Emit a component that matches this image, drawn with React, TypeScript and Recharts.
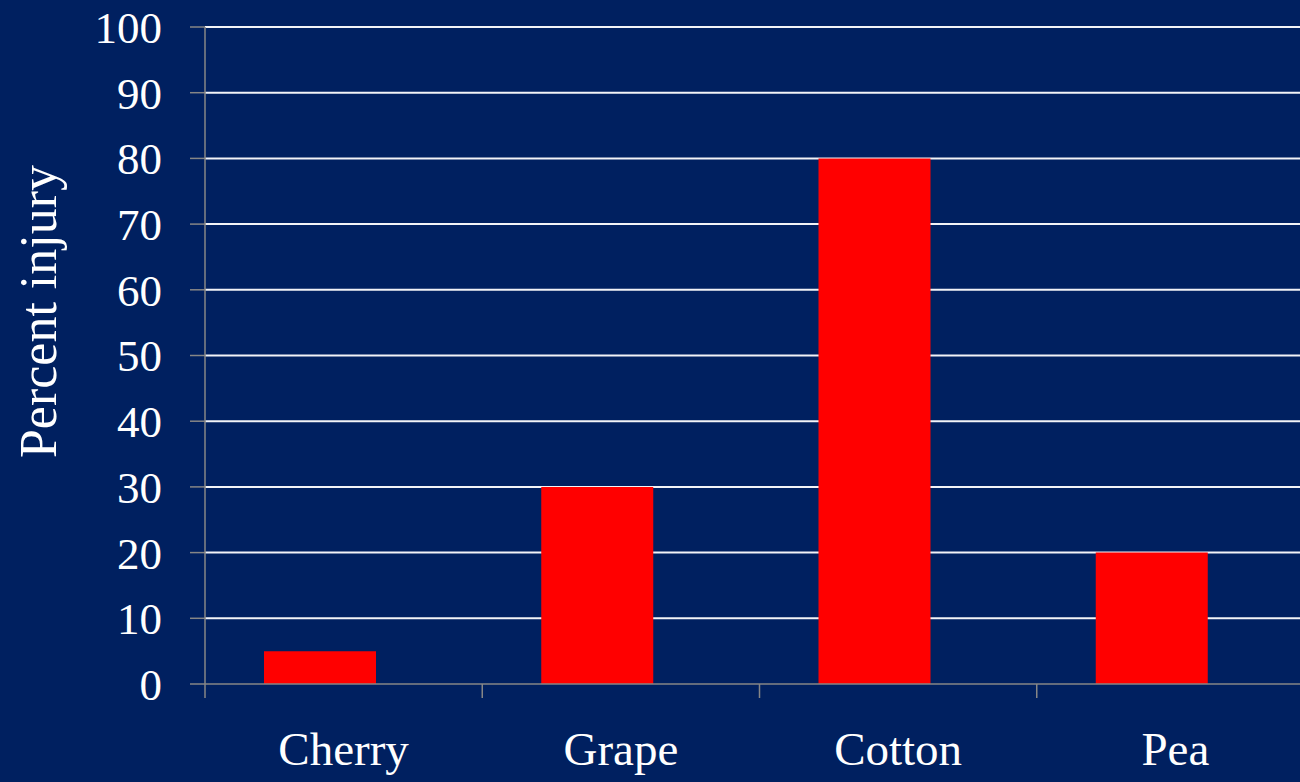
import { Bar, BarChart, CartesianGrid, XAxis, YAxis } from 'recharts'

const crops = ['Cherry', 'Grape', 'Cotton', 'Pea']
const injury = [5, 30, 80, 20]
// empty second series, the source chart leaves room for it next to each bar
const spacer = [0, 0, 0, 0]
const yTicks = [0, 10, 20, 30, 40, 50, 60, 70, 80, 90, 100]
// white gridlines, the 0 line is the grey axis
const gridValues = [10, 20, 30, 40, 50, 60, 70, 80, 90, 100]

const data = crops.map((name, i) => ({ name, injury: injury[i], spacer: spacer[i] }))

const navy = '#002060'
const axisGrey = '#868686'
const font = '"Liberation Serif", "Times New Roman", serif'
const labelGap = 48
const markLen = 14

// category label at band centre, tick mark at the band's left edge
function CropTick(props: any) {
  const { x, y, payload } = props
  const edge = x - (payload.offset || 0)
  return (
    <g>
      <line
        x1={edge}
        x2={edge}
        y1={y - labelGap}
        y2={y - labelGap + markLen}
        stroke={axisGrey}
        strokeWidth={1.5}
      />
      <text
        x={x}
        y={y}
        dy="0.71em"
        textAnchor="middle"
        fill="#ffffff"
        fontSize={47}
        fontFamily={font}>
        {payload.value}
      </text>
    </g>
  )
}

export default function App() {
  return (
    <div
      style={{
        position: 'fixed',
        left: 0,
        top: 0,
        width: 1300,
        height: 782,
        overflow: 'hidden',
        background: navy
      }}>
      <BarChart
        width={1314}
        height={782}
        data={data}
        margin={{ top: 27, right: 0, left: 0, bottom: 0 }}
        barGap={0}
        style={{ fontFamily: font }}>
        <CartesianGrid
          vertical={false}
          horizontalValues={gridValues}
          stroke="#ffffff"
          strokeWidth={2}
          strokeOpacity={0.95}
        />
        <XAxis
          dataKey="name"
          height={98}
          interval={0}
          stroke={axisGrey}
          strokeWidth={1.5}
          tickLine={false}
          tickSize={0}
          tickMargin={labelGap}
          tick={<CropTick />}
        />
        <YAxis
          width={205}
          domain={[0, 100]}
          ticks={yTicks}
          interval={0}
          stroke={axisGrey}
          strokeWidth={1.5}
          tickSize={15}
          tickMargin={28}
          tick={{ fill: '#ffffff', fontSize: 45, fontFamily: font }}
          label={{
            value: 'Percent injury',
            angle: -90,
            position: 'center',
            dx: -65,
            dy: -44,
            fill: '#ffffff',
            fontSize: 52,
            fontFamily: font
          }}
        />
        <Bar dataKey="injury" fill="#ff0000" barSize={112} isAnimationActive={false} />
        <Bar dataKey="spacer" fill="transparent" barSize={48} isAnimationActive={false} />
      </BarChart>
    </div>
  )
}
